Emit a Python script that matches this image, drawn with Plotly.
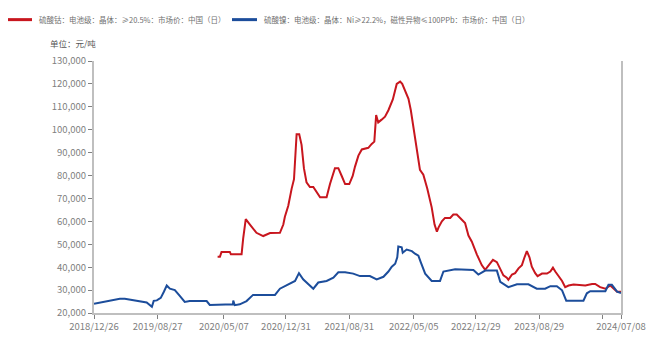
import plotly.graph_objects as go

# 硫酸钴（电池级）日度市场价，元/吨
cobalt_dates = [
    "2020-04-13", "2020-04-22", "2020-04-28", "2020-05-30", "2020-06-03", "2020-07-14",
    "2020-07-20", "2020-07-30", "2020-08-15", "2020-09-09", "2020-10-05", "2020-10-31",
    "2020-12-08", "2020-12-21", "2020-12-27", "2021-01-09", "2021-01-22", "2021-01-31",
    "2021-02-10", "2021-02-20", "2021-03-01", "2021-03-10", "2021-03-20", "2021-04-02",
    "2021-04-15", "2021-04-28", "2021-05-11", "2021-06-05", "2021-06-18", "2021-07-07",
    "2021-07-20", "2021-08-02", "2021-08-15", "2021-08-31", "2021-09-13", "2021-09-22",
    "2021-10-05", "2021-10-18", "2021-11-12", "2021-11-25", "2021-12-05", "2021-12-12",
    "2021-12-20", "2022-01-02", "2022-01-15", "2022-01-28", "2022-02-14", "2022-03-01",
    "2022-03-14", "2022-03-22", "2022-04-02", "2022-04-15", "2022-04-24", "2022-05-06",
    "2022-05-19", "2022-05-29", "2022-06-11", "2022-06-26", "2022-07-13", "2022-07-24",
    "2022-08-02", "2022-08-08", "2022-08-21", "2022-09-02", "2022-09-22", "2022-10-04",
    "2022-10-17", "2022-10-30", "2022-11-18", "2022-12-01", "2022-12-14", "2023-01-02",
    "2023-01-21", "2023-02-03", "2023-02-16", "2023-03-05", "2023-03-20", "2023-04-02",
    "2023-04-14", "2023-04-27", "2023-05-03", "2023-05-17", "2023-05-29", "2023-06-11",
    "2023-06-24", "2023-07-03", "2023-07-13", "2023-07-23", "2023-08-01", "2023-08-14",
    "2023-08-23", "2023-09-09", "2023-09-28", "2023-10-11", "2023-10-21", "2023-10-30",
    "2023-11-11", "2023-11-25", "2023-12-07", "2023-12-20", "2024-01-08", "2024-02-09",
    "2024-02-22", "2024-03-19", "2024-03-31", "2024-04-19", "2024-05-09", "2024-05-28",
    "2024-06-10", "2024-06-23", "2024-07-08",
]
cobalt_price = [
    44600, 44600, 46600, 46600, 45600, 45600,
    52500, 61000, 58600, 55000, 53600, 54900,
    55000, 58600, 62000, 66800, 74300, 78400,
    98000, 98000, 93400, 83200, 77000, 75000,
    75000, 72900, 70500, 70500, 76300, 83200,
    83200, 79800, 76300, 76300, 79800, 83900,
    88700, 91400, 92100, 93800, 94800, 106400,
    103200, 104400, 105700, 108500, 113200, 120000,
    121000, 120000, 117300, 113500, 108500, 99600,
    91400, 82500, 80400, 74300, 66100, 58600,
    55500, 57300, 60000, 61500, 61500, 63000,
    63000, 61300, 59300, 53800, 51100, 45600,
    40900, 38800, 40900, 43200, 42200, 38800,
    36400, 35400, 34500, 36800, 37400, 39500,
    40900, 44000, 47000, 44300, 40200, 37400,
    36100, 37200, 37200, 38100, 39800, 38100,
    36100, 34000, 31300, 32000, 32400, 32000,
    32000, 32700, 32700, 31300, 30600, 32000,
    30600, 29300, 29300,
]

# 硫酸镍（电池级）日度市场价，元/吨
nickel_dates = [
    "2018-12-26", "2019-02-24", "2019-04-04", "2019-04-23", "2019-06-19", "2019-07-16",
    "2019-08-05", "2019-08-12", "2019-08-24", "2019-09-08", "2019-09-20", "2019-10-01",
    "2019-10-13", "2019-11-01", "2019-11-20", "2019-12-09", "2019-12-28", "2020-03-02",
    "2020-03-14", "2020-06-11", "2020-06-12", "2020-06-18", "2020-07-07", "2020-08-02",
    "2020-08-27", "2020-11-19", "2020-12-08", "2021-01-09", "2021-02-04", "2021-02-19",
    "2021-03-07", "2021-04-15", "2021-05-04", "2021-06-05", "2021-07-01", "2021-07-20",
    "2021-08-15", "2021-09-15", "2021-10-11", "2021-11-18", "2021-12-14", "2022-01-09",
    "2022-01-28", "2022-02-10", "2022-02-23", "2022-03-03", "2022-03-07", "2022-03-20",
    "2022-03-24", "2022-04-08", "2022-04-28", "2022-05-10", "2022-05-23", "2022-06-01",
    "2022-06-18", "2022-07-13", "2022-08-14", "2022-08-27", "2022-10-11", "2022-12-20",
    "2023-01-08", "2023-02-03", "2023-03-20", "2023-04-02", "2023-05-03", "2023-06-05",
    "2023-07-19", "2023-08-20", "2023-09-21", "2023-10-11", "2023-11-05", "2023-11-25",
    "2023-12-11", "2024-02-15", "2024-02-28", "2024-03-12", "2024-05-09", "2024-05-21",
    "2024-06-03", "2024-06-23", "2024-07-08",
]
nickel_price = [
    24000, 25300, 26200, 26200, 25200, 24600,
    22700, 25300, 25500, 26600, 29300, 32000,
    30600, 30000, 27500, 24800, 25200, 25200,
    23500, 23800, 25400, 23400, 23800, 25200,
    27900, 27900, 30600, 32500, 34000, 37400,
    34700, 30600, 33300, 34000, 35400, 37800,
    37800, 37200, 36100, 36100, 34700, 35800,
    38100, 40200, 41500, 44300, 49000, 48700,
    46300, 47700, 47000, 45900, 45000, 42200,
    37200, 34000, 34000, 38100, 39100, 38800,
    36800, 38500, 38500, 33600, 31300, 32500,
    32500, 30600, 30600, 31700, 31700, 29900,
    25400, 25400, 28600, 29500, 29500, 32300,
    32300, 29300, 28700,
]

cobalt_name = "硫酸钴：电池级：晶体：≥20.5%：市场价：中国（日）"
nickel_name = "硫酸镍：电池级：晶体：Ni≥22.2%，磁性异物≤100PPb：市场价：中国（日）"
unit_text = "单位：元/吨"

tick_dates = [
    "2018-12-26", "2019-08-27", "2020-05-07", "2020-12-31", "2021-08-31",
    "2022-05-05", "2022-12-29", "2023-08-29", "2024-04-27", "2024-07-08",
]
tick_labels = [
    "2018/12/26", "2019/08/27", "2020/05/07", "2020/12/31", "2021/08/31",
    "2022/05/05", "2022/12/29", "2023/08/29", "", "2024/07/08",
]
y_ticks = list(range(20000, 130001, 10000))

RED = "#C8161E"
BLUE = "#1C4D9B"
FONT = "Noto Sans CJK SC"

fig = go.Figure()
fig.add_trace(go.Scatter(x=cobalt_dates, y=cobalt_price, mode="lines", name=cobalt_name,
                         line=dict(color=RED, width=2)))
fig.add_trace(go.Scatter(x=nickel_dates, y=nickel_price, mode="lines", name=nickel_name,
                         line=dict(color=BLUE, width=2)))

# plot area: left 94, right 621, top 61, bottom 329 (px)
L, R, T, B = 94, 621, 61, 329
def px(xp):
    return (xp - L) / (R - L)
def py(yp):
    return (B - yp) / (B - T)

shapes = []
annotations = []
for color, x0, x1, tx, name in [(RED, 8, 32, 37, cobalt_name), (BLUE, 232, 257, 262, nickel_name)]:
    shapes.append(dict(type="line", xref="paper", yref="paper",
                       x0=px(x0), x1=px(x1), y0=py(17), y1=py(17),
                       line=dict(color=color, width=3)))
    annotations.append(dict(text=name, xref="paper", yref="paper", x=px(tx), y=py(17),
                            xanchor="left", yanchor="middle", showarrow=False,
                            font=dict(family=FONT, size=7.5, color="#6f6f6f")))
annotations.append(dict(text=unit_text, xref="paper", yref="paper", x=px(48), y=py(41.5),
                        xanchor="left", yanchor="middle", showarrow=False,
                        font=dict(family=FONT, size=8.5, color="#555555")))

fig.update_layout(
    width=661, height=345,
    margin=dict(l=L, r=661 - R, t=T, b=345 - B, pad=0),
    paper_bgcolor="white", plot_bgcolor="white",
    showlegend=False,
    font=dict(family=FONT, size=9.5, color="#808080"),
    shapes=shapes, annotations=annotations,
    xaxis=dict(
        type="date", range=["2018-12-26", "2024-07-08"],
        tickvals=tick_dates, ticktext=tick_labels,
        showgrid=False, zeroline=False,
        showline=True, linecolor="#bfbfbf", linewidth=2,
        ticks="outside", ticklen=4, tickcolor="#808080", tickwidth=1,
        tickfont=dict(family=FONT, size=9.5, color="#808080"),
    ),
    yaxis=dict(
        range=[20000, 130000], tickvals=y_ticks, tickformat=",",
        showgrid=False, zeroline=False,
        showline=True, linecolor="#bfbfbf", linewidth=2, mirror=True,
        ticks="outside", ticklen=4, tickcolor="#808080", tickwidth=1,
        tickfont=dict(family=FONT, size=9.5, color="#808080"),
    ),
)

fig.write_html("out.html")
